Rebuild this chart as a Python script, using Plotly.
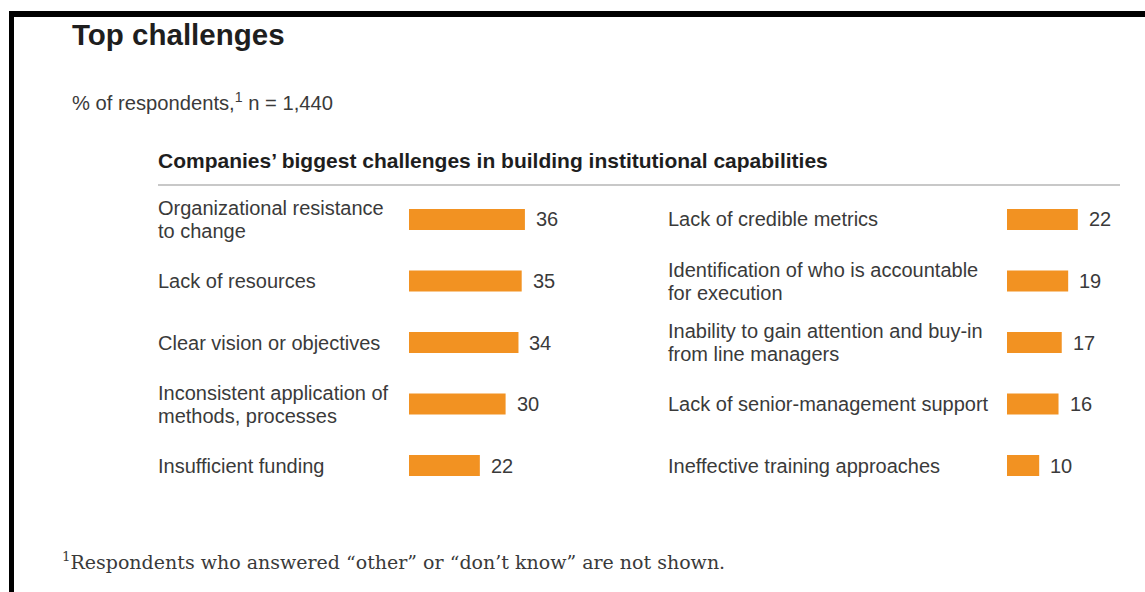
import plotly.graph_objects as go

W, H = 1145, 592

left_labels = ["Organizational resistance<br>to change", "Lack of resources", "Clear vision or objectives",
               "Inconsistent application of<br>methods, processes", "Insufficient funding"]
left_values = [36, 35, 34, 30, 22]
right_labels = ["Lack of credible metrics", "Identification of who is accountable<br>for execution",
                "Inability to gain attention and buy-in<br>from line managers",
                "Lack of senior-management support", "Ineffective training approaches"]
right_values = [22, 19, 17, 16, 10]

title = "Top challenges"
subtitle = "% of respondents,<sup>1</sup> n = 1,440"
heading = "Companies’ biggest challenges in building institutional capabilities"
footnote = "<sup>1</sup>Respondents who answered “other” or “don’t know” are not shown."

ORANGE = "#F29222"
TXT = "#3a3a3a"
DARK = "#1e1e1e"
SANS = "Liberation Sans, Arial, sans-serif"

def px_x(p):
    return p / W

def px_y(p):
    return 1 - p / H

pxu = 3.22  # pixels per unit
xmax = 40
lcats = [f"L{i}" for i in range(len(left_values))]
rcats = [f"R{i}" for i in range(len(right_values))]

fig = go.Figure()
fig.add_trace(go.Bar(x=left_values, y=lcats, orientation="h", marker=dict(color=ORANGE, line=dict(width=0)),
                     width=0.34, xaxis="x", yaxis="y", hoverinfo="skip"))
fig.add_trace(go.Bar(x=right_values, y=rcats, orientation="h", marker=dict(color=ORANGE, line=dict(width=0)),
                     width=0.34, xaxis="x2", yaxis="y2", hoverinfo="skip"))

row_top, row_step = 219.5, 61.5
ytop = row_top - row_step / 2
ybot = ytop + row_step * 5
ydom = [px_y(ybot), px_y(ytop)]

ax_common = dict(showgrid=False, zeroline=False, showticklabels=False, showline=False, ticks="", fixedrange=True)
fig.update_layout(
    width=W, height=H,
    margin=dict(l=0, r=0, t=0, b=0),
    paper_bgcolor="white", plot_bgcolor="rgba(0,0,0,0)",
    showlegend=False,
    xaxis=dict(domain=[px_x(409), px_x(409 + pxu * xmax)], range=[0, xmax], anchor="y", **ax_common),
    yaxis=dict(domain=ydom, type="category", categoryorder="array", categoryarray=lcats[::-1],
               range=[-0.5, 4.5], anchor="x", **ax_common),
    xaxis2=dict(domain=[px_x(1007), px_x(1007 + pxu * xmax)], range=[0, xmax], anchor="y2", **ax_common),
    yaxis2=dict(domain=ydom, type="category", categoryorder="array", categoryarray=rcats[::-1],
                range=[-0.5, 4.5], anchor="x2", **ax_common),
)

ann = []
LINE_H = 23

def add_label(xpx, cat, yref, text):
    lines = text.split("<br>")
    n = len(lines)
    for i, ln in enumerate(lines):
        shift = ((n - 1) / 2 - i) * LINE_H
        ann.append(dict(x=px_x(xpx), xref="paper", y=cat, yref=yref, text=ln, xanchor="left", yanchor="middle",
                        yshift=shift, align="left", showarrow=False, font=dict(family=SANS, size=20, color=TXT)))

for c, t in zip(lcats, left_labels):
    add_label(156, c, "y", t)
for c, t in zip(rcats, right_labels):
    add_label(666, c, "y2", t)
# value labels
for c, v in zip(lcats, left_values):
    ann.append(dict(x=v, xref="x", y=c, yref="y", text=str(v), xanchor="left", yanchor="middle", xshift=9,
                    showarrow=False, font=dict(family=SANS, size=20, color=TXT)))
for c, v in zip(rcats, right_values):
    ann.append(dict(x=v, xref="x2", y=c, yref="y2", text=str(v), xanchor="left", yanchor="middle", xshift=9,
                    showarrow=False, font=dict(family=SANS, size=20, color=TXT)))
# titles
ann.append(dict(x=px_x(70), y=px_y(34), xref="paper", yref="paper", text=f"<b>{title}</b>", xanchor="left",
                yanchor="middle", showarrow=False, font=dict(family=SANS, size=29.5, color=DARK)))
ann.append(dict(x=px_x(70), y=px_y(101), xref="paper", yref="paper", text=subtitle, xanchor="left",
                yanchor="middle", showarrow=False, font=dict(family=SANS, size=20.2, color=TXT)))
ann.append(dict(x=px_x(156), y=px_y(161), xref="paper", yref="paper", text=f"<b>{heading}</b>", xanchor="left",
                yanchor="middle", showarrow=False, font=dict(family=SANS, size=21, color=DARK)))
ann.append(dict(x=px_x(60), y=px_y(561), xref="paper", yref="paper", text=footnote, xanchor="left",
                yanchor="middle", showarrow=False, font=dict(family="DejaVu Serif, Georgia, serif", size=19, color=TXT)))
fig.update_layout(annotations=ann)

shapes = [
    dict(type="rect", xref="paper", yref="paper", x0=px_x(9), x1=1, y0=px_y(17), y1=px_y(11),
         fillcolor="black", line=dict(width=0)),
    dict(type="rect", xref="paper", yref="paper", x0=px_x(9), x1=px_x(14), y0=0, y1=px_y(11),
         fillcolor="black", line=dict(width=0)),
    dict(type="line", xref="paper", yref="paper", x0=px_x(158), x1=px_x(1120), y0=px_y(185), y1=px_y(185),
         line=dict(color="#c8c8c8", width=2)),
]
fig.update_layout(shapes=shapes)

fig.write_html("out.html")
